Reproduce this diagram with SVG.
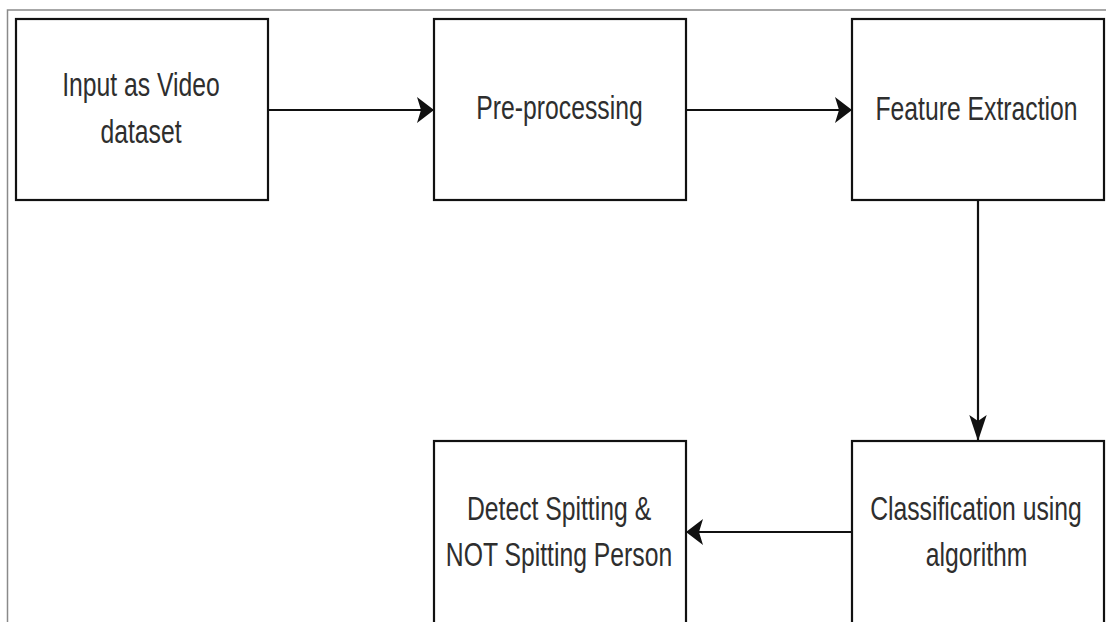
<svg xmlns="http://www.w3.org/2000/svg" width="1106" height="622" viewBox="0 0 1106 622">
  <defs>
    <style>
      .frame { fill: none; stroke: #8a8a8a; stroke-width: 1.5; }
      .box { fill: #ffffff; stroke: #111111; stroke-width: 2.2; }
      .edge { fill: none; stroke: #111111; stroke-width: 2.2; }
      .lbl { font-family: "Liberation Sans", Arial, sans-serif; font-size: 34px; fill: #2e2e2e; text-anchor: middle; }
    </style>
    <marker id="arrH" markerUnits="userSpaceOnUse" viewBox="-18 -14 20 28" refX="0" refY="0" markerWidth="20" markerHeight="28" orient="auto">
      <path d="M0,0 L-17,-13 L-13,0 L-17,13 Z" fill="#111111"/>
    </marker>
    <marker id="arrV" markerUnits="userSpaceOnUse" viewBox="-27 -10 29 20" refX="0" refY="0" markerWidth="29" markerHeight="20" orient="auto">
      <path d="M0,0 L-26,-8.7 L-20,0 L-26,8.7 Z" fill="#111111"/>
    </marker>
  </defs>

  <rect class="frame" x="7.5" y="10" width="1110" height="630"/>

  <g id="connectors">
    <path class="edge" d="M268,110 L434,110" marker-end="url(#arrH)"/>
    <path class="edge" d="M686,110 L852,110" marker-end="url(#arrH)"/>
    <path class="edge" d="M978,200 L978,441" marker-end="url(#arrV)"/>
    <path class="edge" d="M852,532 L686,532" marker-end="url(#arrH)"/>
  </g>

  <g id="input">
    <rect class="box" x="16" y="19" width="252" height="181"/>
    <text class="lbl" transform="translate(141,96) scale(0.728,1)">Input as Video</text>
    <text class="lbl" transform="translate(141,143) scale(0.728,1)">dataset</text>
  </g>

  <g id="preprocessing">
    <rect class="box" x="434" y="19" width="252" height="181"/>
    <text class="lbl" transform="translate(559.5,119) scale(0.728,1)">Pre-processing</text>
  </g>

  <g id="feature">
    <rect class="box" x="852" y="19" width="252" height="181"/>
    <text class="lbl" transform="translate(976.5,120) scale(0.728,1)">Feature Extraction</text>
  </g>

  <g id="classification">
    <rect class="box" x="852" y="441" width="252" height="200"/>
    <text class="lbl" transform="translate(976,520) scale(0.728,1)">Classification using</text>
    <text class="lbl" transform="translate(976.5,566) scale(0.728,1)">algorithm</text>
  </g>

  <g id="detect">
    <rect class="box" x="434" y="441" width="252" height="200"/>
    <text class="lbl" transform="translate(559,520) scale(0.728,1)">Detect Spitting &amp;</text>
    <text class="lbl" transform="translate(559,566) scale(0.728,1)">NOT Spitting Person</text>
  </g>
</svg>
